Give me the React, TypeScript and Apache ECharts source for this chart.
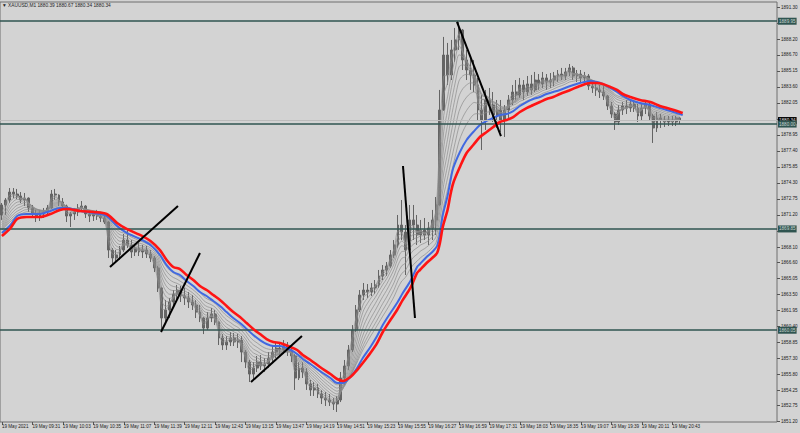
import React, { useEffect, useRef } from 'react';
import * as echarts from 'echarts';

// ---- data (XAUUSD, M1 chart, aggregated to 4-minute bars) ----
const START_MIN = 8 * 60 + 59; // 08:59
const STEP = 4; // minutes per bar
const SLOTS = 204; // bar slots on the visible axis (incl. right shift)

const open = [
  1871.20, 1872.17, 1872.65, 1873.42, 1873.23, 1873.04, 1872.65, 1872.84, 1871.88, 1871.30,
  1871.10, 1871.30, 1871.49, 1871.88, 1873.23, 1873.13, 1872.46, 1872.07, 1871.10, 1871.30,
  1871.49, 1871.88, 1872.07, 1871.30, 1871.10, 1871.30, 1871.10, 1870.91, 1870.52, 1867.81,
  1867.04, 1867.33, 1867.81, 1868.78, 1868.30, 1867.62, 1868.01, 1867.62, 1867.81, 1867.43,
  1867.04, 1866.07, 1864.14, 1861.23, 1862.01, 1862.78, 1863.55, 1863.94, 1863.36, 1863.17,
  1862.78, 1862.49, 1861.81, 1861.23, 1860.26, 1861.23, 1861.62, 1860.84, 1859.30, 1858.62,
  1858.91, 1859.30, 1858.91, 1859.10, 1857.94, 1856.97, 1855.81, 1856.39, 1856.97, 1856.59,
  1856.78, 1857.36, 1857.94, 1858.33, 1858.14, 1858.52, 1858.14, 1857.56, 1855.43, 1856.39,
  1856.01, 1854.85, 1854.27, 1854.46, 1853.88, 1853.49, 1853.30, 1853.10, 1852.91, 1853.30,
  1855.43, 1856.59, 1858.14, 1860.07, 1862.01, 1863.46, 1863.94, 1863.75, 1864.14, 1864.43,
  1865.30, 1865.88, 1866.26, 1867.33, 1868.30, 1870.23, 1869.55, 1867.81, 1870.72, 1870.23,
  1869.27, 1869.75, 1869.27, 1869.94, 1870.72, 1872.17, 1881.36, 1886.68, 1884.75, 1887.17,
  1888.14, 1889.10, 1886.20, 1885.23, 1884.75, 1883.78, 1881.36, 1880.39, 1882.33, 1881.84,
  1880.88, 1881.36, 1880.39, 1881.36, 1882.33, 1883.10, 1882.81, 1883.78, 1883.10, 1883.88,
  1883.30, 1884.26, 1883.88, 1884.46, 1884.07, 1884.26, 1884.65, 1884.84, 1884.65, 1885.04,
  1885.43, 1884.65, 1884.84, 1884.46, 1884.65, 1883.68, 1883.49, 1883.30, 1883.10, 1882.72,
  1881.75, 1880.97, 1880.20, 1881.36, 1881.75, 1881.55, 1881.94, 1881.55, 1880.78, 1881.55,
  1881.94, 1880.78, 1879.62, 1880.59, 1880.39, 1880.20, 1880.39, 1880.20, 1880.59,
];
const close = [
  1872.17, 1872.65, 1873.42, 1873.23, 1873.04, 1872.65, 1872.84, 1871.88, 1871.30, 1871.10,
  1871.30, 1871.49, 1871.88, 1873.23, 1873.13, 1872.46, 1872.07, 1871.10, 1871.30, 1871.49,
  1871.88, 1872.07, 1871.30, 1871.10, 1871.30, 1871.10, 1870.91, 1870.52, 1867.81, 1867.04,
  1867.33, 1867.81, 1868.78, 1868.30, 1867.62, 1868.01, 1867.62, 1867.81, 1867.43, 1867.04,
  1866.07, 1864.14, 1861.23, 1862.01, 1862.78, 1863.55, 1863.94, 1863.36, 1863.17, 1862.78,
  1862.49, 1861.81, 1861.23, 1860.26, 1861.23, 1861.62, 1860.84, 1859.30, 1858.62, 1858.91,
  1859.30, 1858.91, 1859.10, 1857.94, 1856.97, 1855.81, 1856.39, 1856.97, 1856.59, 1856.78,
  1857.36, 1857.94, 1858.33, 1858.14, 1858.52, 1858.14, 1857.56, 1855.43, 1856.39, 1856.01,
  1854.85, 1854.27, 1854.46, 1853.88, 1853.49, 1853.30, 1853.10, 1852.91, 1853.30, 1855.43,
  1856.59, 1858.14, 1860.07, 1862.01, 1863.46, 1863.94, 1863.75, 1864.14, 1864.43, 1865.30,
  1865.88, 1866.26, 1867.33, 1868.30, 1870.23, 1869.55, 1867.81, 1870.72, 1870.23, 1869.27,
  1869.75, 1869.27, 1869.94, 1870.72, 1872.17, 1881.36, 1886.68, 1884.75, 1887.17, 1888.14,
  1889.10, 1886.20, 1885.23, 1884.75, 1883.78, 1881.36, 1880.39, 1882.33, 1881.84, 1880.88,
  1881.36, 1880.39, 1881.36, 1882.33, 1883.10, 1882.81, 1883.78, 1883.10, 1883.88, 1883.30,
  1884.26, 1883.88, 1884.46, 1884.07, 1884.26, 1884.65, 1884.84, 1884.65, 1885.04, 1885.43,
  1884.65, 1884.84, 1884.46, 1884.65, 1883.68, 1883.49, 1883.30, 1883.10, 1882.72, 1881.75,
  1880.97, 1880.20, 1881.36, 1881.75, 1881.55, 1881.94, 1881.55, 1880.78, 1881.55, 1881.94,
  1880.78, 1879.62, 1880.59, 1880.39, 1880.20, 1880.39, 1880.20, 1880.59, 1880.34,
];
const low = [
  1870.72, 1871.20, 1872.36, 1872.84, 1872.75, 1872.36, 1872.07, 1871.49, 1870.91, 1870.52,
  1870.62, 1870.91, 1871.10, 1871.80, 1872.65, 1872.07, 1871.69, 1870.52, 1870.04, 1870.72,
  1871.10, 1871.69, 1870.91, 1870.52, 1870.62, 1870.72, 1870.52, 1870.33, 1867.04, 1866.46,
  1866.65, 1866.85, 1867.62, 1868.01, 1867.04, 1867.23, 1867.23, 1867.04, 1867.04, 1866.65,
  1865.68, 1863.75, 1860.07, 1860.84, 1861.23, 1862.39, 1862.98, 1862.78, 1862.49, 1862.20,
  1862.01, 1861.23, 1860.84, 1859.68, 1860.07, 1860.84, 1860.55, 1858.62, 1858.14, 1858.14,
  1858.52, 1858.52, 1858.33, 1856.97, 1856.39, 1855.04, 1855.23, 1856.01, 1856.20, 1856.01,
  1856.39, 1856.97, 1857.36, 1857.56, 1857.75, 1857.56, 1856.97, 1854.27, 1855.23, 1855.43,
  1854.27, 1853.69, 1853.69, 1853.49, 1852.91, 1852.72, 1852.72, 1852.33, 1852.14, 1853.10,
  1854.75, 1856.20, 1857.94, 1859.88, 1861.81, 1862.98, 1863.17, 1863.36, 1863.55, 1864.14,
  1864.91, 1865.30, 1866.07, 1867.04, 1868.01, 1868.78, 1865.39, 1867.70, 1868.78, 1868.30,
  1868.49, 1868.78, 1868.30, 1868.78, 1869.27, 1872.10, 1881.30, 1883.78, 1884.26, 1886.01,
  1887.17, 1885.23, 1884.26, 1883.30, 1883.10, 1880.39, 1877.49, 1879.43, 1880.88, 1880.20,
  1879.62, 1879.23, 1878.75, 1880.59, 1881.84, 1882.33, 1882.52, 1882.33, 1882.72, 1882.81,
  1883.10, 1883.30, 1883.49, 1883.30, 1883.49, 1883.68, 1884.07, 1884.26, 1884.26, 1884.65,
  1884.26, 1884.07, 1884.07, 1883.88, 1883.30, 1883.01, 1882.72, 1882.52, 1882.33, 1881.36,
  1880.59, 1879.43, 1879.91, 1880.88, 1880.97, 1881.17, 1881.17, 1880.20, 1880.39, 1880.97,
  1880.39, 1878.17, 1879.23, 1879.62, 1879.72, 1879.81, 1879.81, 1879.81, 1880.01,
];
const high = [
  1872.36, 1872.84, 1873.81, 1873.81, 1873.72, 1873.42, 1873.33, 1872.90, 1872.17, 1871.69,
  1871.69, 1871.88, 1872.17, 1873.62, 1873.72, 1873.20, 1872.84, 1872.20, 1871.49, 1871.88,
  1872.26, 1872.55, 1872.15, 1871.69, 1871.59, 1871.69, 1871.49, 1871.49, 1870.60, 1868.01,
  1867.81, 1868.20, 1869.36, 1869.75, 1868.78, 1868.39, 1868.49, 1868.30, 1868.20, 1867.81,
  1867.23, 1866.26, 1864.20, 1862.98, 1863.17, 1863.94, 1864.43, 1864.33, 1864.14, 1863.75,
  1863.46, 1862.98, 1862.49, 1861.30, 1861.81, 1862.20, 1862.01, 1860.90, 1859.68, 1859.49,
  1859.88, 1859.78, 1859.68, 1859.49, 1858.14, 1857.17, 1856.97, 1857.56, 1857.65, 1857.36,
  1857.94, 1858.52, 1858.81, 1858.81, 1859.10, 1858.91, 1858.33, 1857.75, 1856.97, 1856.97,
  1856.39, 1855.23, 1855.04, 1854.85, 1854.27, 1854.07, 1853.88, 1853.49, 1853.69, 1856.01,
  1857.17, 1858.62, 1860.55, 1862.49, 1863.94, 1864.62, 1864.52, 1864.62, 1864.91, 1865.88,
  1866.36, 1866.65, 1867.81, 1868.78, 1871.20, 1872.65, 1870.23, 1872.17, 1872.17, 1871.20,
  1870.72, 1870.91, 1870.52, 1871.69, 1872.94, 1883.30, 1888.43, 1887.85, 1888.14, 1889.30,
  1889.88, 1889.20, 1887.17, 1886.39, 1886.20, 1884.46, 1882.81, 1883.30, 1883.49, 1883.10,
  1882.33, 1882.33, 1881.84, 1882.81, 1883.78, 1884.26, 1884.46, 1884.26, 1884.65, 1884.75,
  1885.04, 1884.84, 1885.04, 1884.84, 1884.94, 1885.04, 1885.23, 1885.43, 1885.43, 1885.81,
  1885.62, 1885.23, 1885.23, 1885.04, 1884.84, 1884.26, 1883.88, 1883.78, 1883.68, 1882.81,
  1882.13, 1881.17, 1881.84, 1882.13, 1882.33, 1882.33, 1882.33, 1881.94, 1881.94, 1882.33,
  1882.13, 1880.97, 1881.17, 1880.97, 1880.78, 1880.78, 1880.78, 1880.78, 1880.67,
];

// slow moving averages (minutes after 08:59)
const maMinutes = [
  0, 9, 16, 26, 40, 51, 61, 68, 82, 96, 110, 121, 131, 145, 156, 166, 173, 180, 187, 194,
  201, 208, 215, 222, 229, 236, 243, 250, 257, 264, 271, 278, 285, 292, 303, 310, 316, 324, 334, 345,
  352, 358, 366, 373, 379, 387, 394, 400, 408, 415, 421, 429, 436, 439, 446, 453, 457, 460, 463, 468,
  471, 474, 481, 488, 495, 502, 509, 516, 523, 530, 537, 544, 551, 558, 565, 572, 579, 586, 597, 607,
  618, 625, 631, 639, 646, 652, 660, 670, 681, 691, 702, 712, 715,
];
const redMA = [
  1869.17, 1869.94, 1870.81, 1871.01, 1871.01, 1871.30, 1871.69, 1871.78, 1871.59, 1871.49,
  1871.30, 1870.43, 1869.85, 1869.27, 1868.68, 1867.81, 1866.85, 1866.17, 1865.97, 1865.39,
  1864.91, 1864.33, 1863.94, 1863.46, 1862.98, 1862.39, 1861.81, 1861.33, 1860.75, 1860.17,
  1859.68, 1859.20, 1858.91, 1858.81, 1858.43, 1858.14, 1857.65, 1857.17, 1856.49, 1855.81,
  1855.33, 1855.14, 1855.52, 1856.20, 1856.88, 1857.85, 1858.81, 1859.88, 1861.04, 1862.01,
  1862.98, 1864.14, 1865.59, 1865.88, 1866.55, 1867.13, 1867.52, 1868.49, 1870.04, 1871.69,
  1873.13, 1874.30, 1875.85, 1877.20, 1877.97, 1878.75, 1879.23, 1879.72, 1880.20, 1880.39,
  1880.68, 1881.17, 1881.55, 1881.84, 1882.13, 1882.42, 1882.62, 1882.91, 1883.30, 1883.68,
  1883.97, 1883.97, 1883.88, 1883.59, 1883.30, 1882.91, 1882.62, 1882.33, 1882.13, 1881.75,
  1881.46, 1881.17, 1881.07,
];
const blueMA = [
  1869.46, 1870.23, 1871.10, 1871.30, 1871.30, 1871.59, 1871.88, 1871.88, 1871.59, 1871.39,
  1871.10, 1870.13, 1869.46, 1868.88, 1868.30, 1867.33, 1866.36, 1865.68, 1865.39, 1864.81,
  1864.33, 1863.75, 1863.36, 1862.88, 1862.39, 1861.81, 1861.23, 1860.75, 1860.17, 1859.59,
  1859.10, 1858.72, 1858.52, 1858.52, 1858.14, 1857.75, 1857.26, 1856.78, 1856.10, 1855.43,
  1854.94, 1854.94, 1855.52, 1856.39, 1857.36, 1858.43, 1859.49, 1860.55, 1861.72, 1862.68,
  1863.65, 1864.81, 1866.17, 1866.46, 1867.13, 1867.72, 1868.20, 1869.36, 1871.20, 1873.04,
  1874.49, 1875.75, 1877.30, 1878.46, 1879.23, 1879.91, 1880.30, 1880.59, 1880.88, 1880.97,
  1881.26, 1881.75, 1882.13, 1882.42, 1882.62, 1882.91, 1883.10, 1883.30, 1883.68, 1883.97,
  1884.17, 1884.07, 1883.88, 1883.49, 1883.10, 1882.72, 1882.33, 1882.04, 1881.84, 1881.55,
  1881.26, 1880.97, 1880.88,
];

// ribbon of faster EMAs (periods in M1 minutes), computed from closes
const ribbonPeriods = [6, 9, 13, 17, 22, 28, 35, 43, 52, 62];
const ribbonSeed = 1869.4;

// trend lines drawn on the chart: [minute, price]
const trendLines = [
  [[113.5, 1866.17], [184.9, 1872.07]],
  [[167.1, 1859.88], [208.0, 1867.52]],
  [[261.6, 1855.04], [315.1, 1859.49]],
  [[421.2, 1875.94], [433.8, 1861.23]],
  [[477.9, 1889.88], [524.1, 1878.84]],
];

const hLines = [1889.95, 1880.0, 1869.85, 1860.05];
const bidPrice = 1880.34;
const titleOHLC = [1880.39, 1880.67, 1880.34, 1880.34];
const symbolName = 'XAUUSD,M1';

const yTicks = [
  1891.30, 1889.75, 1888.20, 1886.70, 1885.15, 1883.60, 1882.05, 1880.50, 1878.95, 1877.40,
  1875.85, 1874.30, 1872.75, 1871.20, 1869.65, 1868.10, 1866.60, 1865.05, 1863.50, 1861.95,
  1860.40, 1858.85, 1857.30, 1855.80, 1854.25, 1852.75, 1851.20,
];
// tick labels that the price boxes cover in the reference
const yLabelsHidden = [1889.75, 1880.50, 1869.65];
const xTickLabels = [
  '19 May 2021', '19 May 09:31', '19 May 10:03', '19 May 10:35', '19 May 11:07', '19 May 11:39',
  '19 May 12:11', '19 May 12:43', '19 May 13:15', '19 May 13:47', '19 May 14:19', '19 May 14:51',
  '19 May 15:23', '19 May 15:55', '19 May 16:27', '19 May 16:59', '19 May 17:31', '19 May 18:03',
  '19 May 18:35', '19 May 19:07', '19 May 19:39', '19 May 20:11', '19 May 20:43',
];
const LABEL_EVERY = 8;

const Y_MIN = 1851.17;
const Y_MAX = 1891.81;

const FONT = 'Liberation Sans, Arial, sans-serif';

function pad(n: number) {
  return n < 10 ? '0' + n : '' + n;
}

export default function App() {
  const ref = useRef<HTMLDivElement>(null);

  useEffect(() => {
    if (!ref.current) return;
    const chart = echarts.init(ref.current, null, { renderer: 'svg' });

    const categories: string[] = [];
    for (let i = 0; i < SLOTS; i++) {
      const t = START_MIN + i * STEP;
      categories.push(pad(Math.floor(t / 60) % 24) + ':' + pad(t % 60));
    }

    const candles = open.map((o, i) => [o, close[i], low[i], high[i]]);

    const ribbon = ribbonPeriods.map((p) => {
      const a = 1 - Math.pow(1 - 2 / (p + 1), STEP);
      let e = ribbonSeed;
      return close.map((c) => {
        e = e + a * (c - e);
        return +e.toFixed(3);
      });
    });

    const labelShown = (i: number) => i % LABEL_EVERY === 0 && i / LABEL_EVERY < xTickLabels.length;

    const axisBase = {
      type: 'value',
      position: 'right',
      min: Y_MIN,
      max: Y_MAX,
      scale: true,
      splitLine: { show: false },
      axisLine: { show: false, onZero: false },
    };

    const series: any[] = [];

    series.push({
      type: 'candlestick',
      xAxisIndex: 0,
      yAxisIndex: 0,
      data: candles,
      barWidth: 2.4,
      z: 2,
      itemStyle: {
        color: '#646464',
        color0: '#646464',
        borderColor: '#646464',
        borderColor0: '#646464',
        borderWidth: 1,
      },
      markLine: {
        silent: true,
        symbol: 'none',
        animation: false,
        label: { show: false },
        data: [
          ...hLines.map((v) => ({ yAxis: v, lineStyle: { color: '#2f5450', width: 1.6, type: 'solid' } })),
          { yAxis: bidPrice, lineStyle: { color: '#bcbcbc', width: 1, type: 'solid' } },
        ],
      },
    });

    ribbon.forEach((vals) => {
      series.push({
        type: 'line',
        xAxisIndex: 0,
        yAxisIndex: 0,
        data: vals,
        showSymbol: false,
        smooth: 0.3,
        z: 3,
        lineStyle: { color: '#8d8d8d', width: 0.7 },
      });
    });

    series.push({
      type: 'line',
      xAxisIndex: 1,
      yAxisIndex: 0,
      data: maMinutes.map((m, i) => [m, blueMA[i]]),
      showSymbol: false,
      smooth: 0.3,
      z: 4,
      lineStyle: { color: '#4169e1', width: 2 },
    });
    series.push({
      type: 'line',
      xAxisIndex: 1,
      yAxisIndex: 0,
      data: maMinutes.map((m, i) => [m, redMA[i]]),
      showSymbol: false,
      smooth: 0.3,
      z: 5,
      lineStyle: { color: '#ff1414', width: 2.6 },
    });

    trendLines.forEach((seg) => {
      series.push({
        type: 'line',
        xAxisIndex: 1,
        yAxisIndex: 0,
        data: seg,
        showSymbol: false,
        z: 6,
        lineStyle: { color: '#000000', width: 2 },
      });
    });

    const option: any = {
      animation: false,
      backgroundColor: '#d3d3d3',
      title: {
        text: '\u25BC ' + symbolName + ' ' + titleOHLC.map((v) => v.toFixed(2)).join(' '),
        left: 2,
        top: 3,
        padding: 0,
        textStyle: { fontSize: 4.8, fontWeight: 'normal', color: '#1e1e1e', fontFamily: FONT },
      },
      grid: {
        left: 0,
        right: 23,
        top: 2,
        bottom: 11,
        show: true,
        borderColor: '#6e6e6e',
        borderWidth: 1,
        backgroundColor: 'transparent',
        containLabel: false,
        outerBoundsMode: 'none',
      },
      xAxis: [
        {
          type: 'category',
          data: categories,
          boundaryGap: true,
          position: 'bottom',
          axisLine: { show: false, onZero: false },
          axisTick: {
            show: true,
            alignWithLabel: true,
            interval: (i: number) => labelShown(i),
            length: 3,
            lineStyle: { color: '#555555', width: 1 },
          },
          axisLabel: {
            interval: (i: number) => labelShown(i),
            formatter: (_v: string, i: number) => (labelShown(i) ? xTickLabels[i / LABEL_EVERY] : ''),
            align: 'left',
            margin: 2,
            fontSize: 4.6,
            color: '#222222',
            fontFamily: FONT,
          },
          splitLine: { show: false },
        },
        {
          type: 'value',
          min: -STEP / 2,
          max: SLOTS * STEP - STEP / 2,
          position: 'top',
          show: false,
          axisLine: { show: false, onZero: false },
        },
      ],
      yAxis: [
        {
          ...axisBase,
          axisTick: {
            show: true,
            customValues: yTicks,
            length: 3,
            lineStyle: { color: '#555555', width: 1 },
          },
          axisLabel: {
            customValues: yTicks.filter((v) => !yLabelsHidden.includes(v)),
            formatter: (v: number) => v.toFixed(2),
            margin: 4,
            fontSize: 4.6,
            color: '#222222',
            fontFamily: FONT,
          },
        },
        {
          ...axisBase,
          axisTick: { show: false },
          axisLabel: {
            customValues: [bidPrice],
            formatter: (v: number) => v.toFixed(2),
            margin: 1,
            fontSize: 4.6,
            color: '#e0e0e0',
            backgroundColor: '#000000',
            padding: [1, 1, 1, 1],
            fontFamily: FONT,
          },
        },
        {
          ...axisBase,
          axisTick: { show: false },
          axisLabel: {
            customValues: hLines,
            formatter: (v: number) => v.toFixed(2),
            margin: 1,
            fontSize: 4.6,
            color: '#c8d4d2',
            backgroundColor: '#2f5450',
            padding: [1, 1, 1, 1],
            fontFamily: FONT,
          },
        },
      ],
      series,
    };

    chart.setOption(option);
    return () => chart.dispose();
  }, []);

  return (
    <div
      ref={ref}
      style={{ position: 'fixed', left: 0, top: 0, width: 800, height: 433 }}
    />
  );
}
